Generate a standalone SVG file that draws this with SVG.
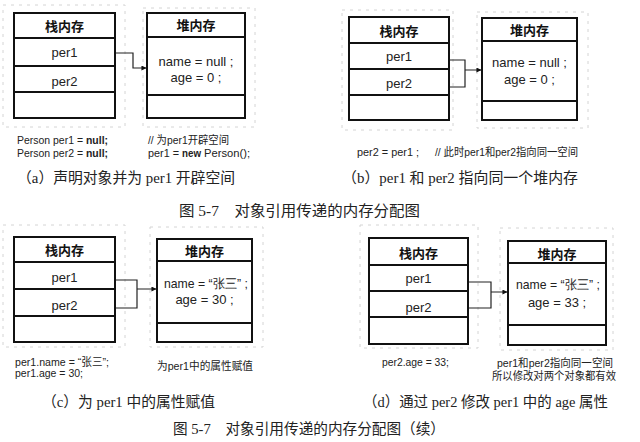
<svg xmlns="http://www.w3.org/2000/svg" width="640" height="442" viewBox="0 0 640 442">
<style>
.box{fill:#fff;stroke:#111;stroke-width:2}
.ln{stroke:#111;stroke-width:1.8;fill:none}
.frame{fill:none;stroke:#d4d4d4;stroke-width:1;stroke-dasharray:3 5}
.conn{stroke:#222;stroke-width:1.2;fill:none}
.hd{font-family:"Noto Sans CJK SC",sans-serif;font-size:13px;font-weight:bold;text-anchor:middle;fill:#111}
.cell{font-family:"Liberation Sans",Arial,sans-serif;font-size:13px;text-anchor:middle;fill:#222}
.code{font-family:"Liberation Sans","Noto Sans CJK SC",sans-serif;font-size:11px;fill:#222}
.b{font-weight:bold}
.cap{font-family:"Liberation Serif","Noto Sans CJK SC",serif;font-size:15px;fill:#222}
</style>
<defs>
<marker id="ah" viewBox="0 0 6 6" refX="5.5" refY="3" markerWidth="5" markerHeight="5" orient="auto" markerUnits="userSpaceOnUse">
<path d="M0,0 L6,3 L0,6 Z" fill="#111"/>
</marker>
</defs>
<rect width="640" height="442" fill="#fff"/>

<g id="frames">
<rect class="frame" x="3" y="5" width="122" height="122"/>
<rect class="frame" x="143" y="8" width="112" height="119"/>
<rect class="frame" x="342" y="10" width="111" height="120"/>
<rect class="frame" x="477" y="12" width="111" height="116"/>
<rect class="frame" x="3" y="225" width="122" height="122"/>
<rect class="frame" x="150" y="227" width="113" height="120"/>
<rect class="frame" x="360" y="225" width="118" height="123"/>
<rect class="frame" x="500" y="228" width="113" height="122"/>
</g>

<!-- Panel a -->
<g id="stack-a">
<rect class="box" x="14" y="13" width="101" height="105"/>
<line class="ln" x1="14" y1="38" x2="115" y2="38"/>
<line class="ln" x1="14" y1="66" x2="115" y2="66"/>
<line class="ln" x1="14" y1="92" x2="115" y2="92"/>
<text class="hd" x="64.5" y="31">栈内存</text>
<text class="cell" x="64.5" y="57">per1</text>
<text class="cell" x="64.5" y="86">per2</text>
</g>
<g id="heap-a">
<rect class="box" x="147" y="13" width="98" height="105"/>
<line class="ln" x1="147" y1="37" x2="245" y2="37"/>
<line class="ln" x1="147" y1="95" x2="245" y2="95"/>
<text class="hd" x="196" y="30">堆内存</text>
<text class="cell" x="196" y="65.5">name = null ;</text>
<text class="cell" x="196" y="82">age = 0 ;</text>
</g>

<!-- Panel b -->
<g id="stack-b">
<rect class="box" x="349" y="17" width="100" height="103"/>
<line class="ln" x1="349" y1="43" x2="449" y2="43"/>
<line class="ln" x1="349" y1="69" x2="449" y2="69"/>
<line class="ln" x1="349" y1="95" x2="449" y2="95"/>
<text class="hd" x="399" y="36">栈内存</text>
<text class="cell" x="399" y="60.5">per1</text>
<text class="cell" x="399" y="88">per2</text>
</g>
<g id="heap-b">
<rect class="box" x="482" y="18" width="95" height="102"/>
<line class="ln" x1="482" y1="41" x2="577" y2="41"/>
<line class="ln" x1="482" y1="101" x2="577" y2="101"/>
<text class="hd" x="529.5" y="35">堆内存</text>
<text class="cell" x="529.5" y="67">name = null ;</text>
<text class="cell" x="529.5" y="83.5">age = 0 ;</text>
</g>

<!-- Panel c -->
<g id="stack-c">
<rect class="box" x="14" y="237" width="101" height="105"/>
<line class="ln" x1="14" y1="262" x2="115" y2="262"/>
<line class="ln" x1="14" y1="289" x2="115" y2="289"/>
<line class="ln" x1="14" y1="316" x2="115" y2="316"/>
<text class="hd" x="64.5" y="255">栈内存</text>
<text class="cell" x="64.5" y="281.5">per1</text>
<text class="cell" x="64.5" y="309.5">per2</text>
</g>
<g id="heap-c">
<rect class="box" x="157" y="239" width="95" height="103"/>
<line class="ln" x1="157" y1="261" x2="252" y2="261"/>
<line class="ln" x1="157" y1="323" x2="252" y2="323"/>
<text class="hd" x="204.5" y="256">堆内存</text>
<text class="cell" x="206" y="287.5" textLength="84" lengthAdjust="spacingAndGlyphs">name = “张三” ;</text>
<text class="cell" x="204.5" y="303.5">age = 30 ;</text>
</g>

<!-- Panel d -->
<g id="stack-d">
<rect class="box" x="369" y="238" width="99" height="106"/>
<line class="ln" x1="369" y1="265" x2="468" y2="265"/>
<line class="ln" x1="369" y1="291" x2="468" y2="291"/>
<line class="ln" x1="369" y1="317" x2="468" y2="317"/>
<text class="hd" x="418.5" y="257.5">栈内存</text>
<text class="cell" x="418.5" y="282.5">per1</text>
<text class="cell" x="418.5" y="311.5">per2</text>
</g>
<g id="heap-d">
<rect class="box" x="508" y="241" width="98" height="104"/>
<line class="ln" x1="508" y1="263" x2="606" y2="263"/>
<line class="ln" x1="508" y1="325" x2="606" y2="325"/>
<text class="hd" x="557" y="258.5">堆内存</text>
<text class="cell" x="558" y="288.5" textLength="84" lengthAdjust="spacingAndGlyphs">name = “张三” ;</text>
<text class="cell" x="557" y="306.5">age = 33 ;</text>
</g>

<g id="connectors">
<path class="conn" d="M116,53 H133 V68 H146" marker-end="url(#ah)"/>
<path class="conn" d="M450,60 H465 V87 H450 M465,70 H481" marker-end="url(#ah)"/>
<path class="conn" d="M116,280 H137 V308 H116 M137,289 H156" marker-end="url(#ah)"/>
<path class="conn" d="M469,282 H491 V308 H469 M491,292 H507" marker-end="url(#ah)"/>
</g>

<g id="texts">
<text class="code" x="17" y="144" textLength="66" lengthAdjust="spacingAndGlyphs">Person per1 =</text>
<text class="code b" x="86" y="144" textLength="22" lengthAdjust="spacingAndGlyphs">null;</text>
<text class="code" x="17" y="157" textLength="66" lengthAdjust="spacingAndGlyphs">Person per2 =</text>
<text class="code b" x="86" y="157" textLength="22" lengthAdjust="spacingAndGlyphs">null;</text>
<text class="code" x="148" y="144" textLength="81" lengthAdjust="spacingAndGlyphs">// 为per1开辟空间</text>
<text class="code" x="148" y="157" textLength="31" lengthAdjust="spacingAndGlyphs">per1 =</text>
<text class="code b" x="182" y="157" textLength="19" lengthAdjust="spacingAndGlyphs">new</text>
<text class="code" x="204" y="157" textLength="46" lengthAdjust="spacingAndGlyphs">Person();</text>
<text class="cap" x="17" y="183" textLength="218" lengthAdjust="spacingAndGlyphs">（a）声明对象并为 per1 开辟空间</text>

<text class="code" x="357" y="156" textLength="62" lengthAdjust="spacingAndGlyphs">per2 = per1 ;</text>
<text class="code" x="435" y="156" textLength="143" lengthAdjust="spacingAndGlyphs">// 此时per1和per2指向同一空间</text>
<text class="cap" x="342" y="183" textLength="236" lengthAdjust="spacingAndGlyphs">（b）per1 和 per2 指向同一个堆内存</text>

<text class="cap" x="179" y="216" textLength="241" lengthAdjust="spacingAndGlyphs">图 5-7　对象引用传递的内存分配图</text>

<text class="code" x="15" y="366" textLength="94" lengthAdjust="spacingAndGlyphs">per1.name = “张三”;</text>
<text class="code" x="15" y="377" textLength="68" lengthAdjust="spacingAndGlyphs">per1.age = 30;</text>
<text class="code" x="157" y="370" textLength="96" lengthAdjust="spacingAndGlyphs">为per1中的属性赋值</text>
<text class="cap" x="42" y="407" textLength="173" lengthAdjust="spacingAndGlyphs">（c）为 per1 中的属性赋值</text>

<text class="code" x="382" y="366" textLength="67" lengthAdjust="spacingAndGlyphs">per2.age = 33;</text>
<text class="code" x="497" y="367" textLength="116" lengthAdjust="spacingAndGlyphs">per1和per2指向同一空间</text>
<text class="code" x="492" y="380" textLength="124" lengthAdjust="spacingAndGlyphs">所以修改对两个对象都有效</text>
<text class="cap" x="363" y="407" textLength="245" lengthAdjust="spacingAndGlyphs">（d）通过 per2 修改 per1 中的 age 属性</text>

<text class="cap" x="173" y="434" textLength="272" lengthAdjust="spacingAndGlyphs">图 5-7　对象引用传递的内存分配图（续）</text>
</g>
</svg>
